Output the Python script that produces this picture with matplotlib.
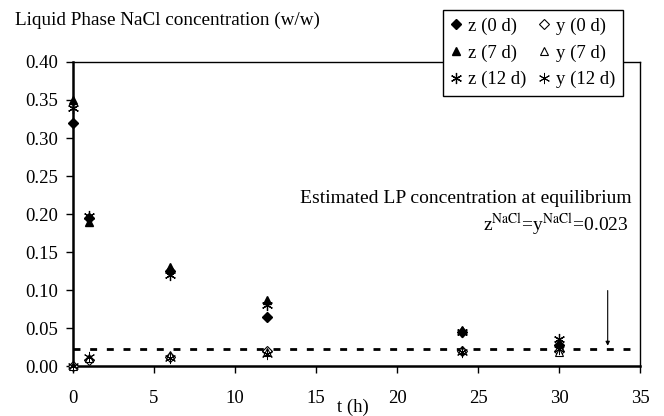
import numpy as np
import matplotlib
matplotlib.use("Agg")
from matplotlib import pyplot as plt

plt.rcParams['font.family'] = ['Liberation Serif', 'DejaVu Serif']
plt.rcParams['mathtext.fontset'] = 'stix'

t = [0, 1, 6, 12, 24, 30]
z_0d = [0.320, 0.195, 0.125, 0.065, 0.045, 0.028]
z_7d = [0.350, 0.190, 0.130, 0.087, 0.048, 0.030]
z_12d = [0.340, 0.197, 0.120, 0.080, 0.045, 0.035]
y_0d = [0.000, 0.008, 0.012, 0.020, 0.020, 0.020]
y_7d = [0.000, 0.010, 0.015, 0.018, 0.021, 0.019]
y_12d = [0.000, 0.012, 0.010, 0.016, 0.019, 0.022]
eq_conc = 0.023
arrow_t = 33

fig = plt.figure(figsize=(6.64, 4.16), dpi=100)
ax = fig.add_axes([0.110, 0.120, 0.854, 0.731])

star = (6, 2, 0)
kw = dict(ls='none', clip_on=False, zorder=3)
ax.plot(t, z_0d, marker='D', ms=5, color='black', label='z (0 d)', **kw)
ax.plot(t, z_7d, marker='^', ms=6, color='black', label='z (7 d)', **kw)
ax.plot(t, z_12d, marker=star, ms=8, mew=0.9, color='black', label='z (12 d)', **kw)
ax.plot(t, y_0d, marker='D', ms=5, mfc='white', mec='black', mew=0.8, label='y (0 d)', **kw)
ax.plot(t, y_7d, marker='^', ms=6, mfc='white', mec='black', mew=0.8, label='y (7 d)', **kw)
ax.plot(t, y_12d, marker=star, ms=8, mew=0.7, color='black', label='y (12 d)', **kw)

ax.axhline(eq_conc, color='black', ls=(0, (2.5, 3.5)), lw=2)
ax.annotate('', xy=(arrow_t, eq_conc), xytext=(arrow_t, 0.103),
            arrowprops=dict(arrowstyle='-|>', color='black', lw=0.8, mutation_scale=6))
ax.text(34.45, 0.221, 'Estimated LP concentration at equilibrium', fontsize=14,
        ha='right', va='center')
ax.text(34.3, 0.186, r'z$^{\mathrm{NaCl}}$=y$^{\mathrm{NaCl}}$=0.023', fontsize=14,
        ha='right', va='center')

ax.set_xlim(0, 35)
ax.set_ylim(0, 0.40)
ax.set_xticks(np.arange(0, 36, 5))
ax.set_yticks(np.arange(0, 0.41, 0.05))
ax.set_yticklabels(['%.2f' % v for v in np.arange(0, 0.41, 0.05)])
ax.tick_params(direction='out', length=5, labelsize=13.5, width=1)
ax.tick_params(axis='x', pad=12)
ax.tick_params(axis='y', pad=6)
ax.spines['bottom'].set_linewidth(1.8)
ax.spines['left'].set_linewidth(1.8)
ax.spines['top'].set_linewidth(1)
ax.spines['right'].set_linewidth(1)

fig.text(0.023, 0.952, 'Liquid Phase NaCl concentration (w/w)', fontsize=13.8,
         ha='left', va='center')
fig.text(0.532, 0.022, 't (h)', fontsize=13.5, ha='center', va='center')

leg = ax.legend(loc='upper left', bbox_to_anchor=(443 / 664, 1 - 10 / 416),
                bbox_transform=fig.transFigure, ncol=2, fontsize=13.5,
                frameon=True, fancybox=False, framealpha=1, edgecolor='black',
                handlelength=0.6, handletextpad=0.35, columnspacing=0.6,
                labelspacing=0.5, borderpad=0.4, borderaxespad=0)
leg.get_frame().set_linewidth(1)
leg.set_zorder(5)

fig.savefig('out.png', dpi=100)
